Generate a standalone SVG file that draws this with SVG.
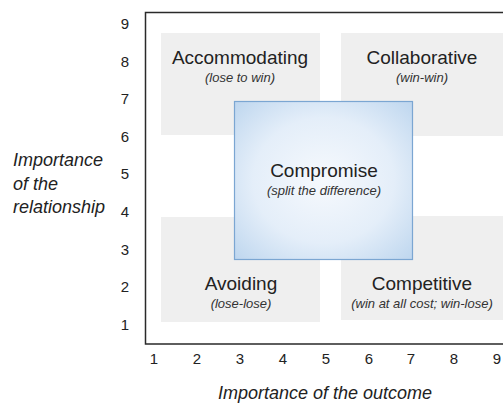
<svg xmlns="http://www.w3.org/2000/svg" width="503" height="403" viewBox="0 0 503 403">
  <style>
    text { font-family: "Liberation Sans", Arial, sans-serif; fill: #222; }
    .tick { font-size: 15px; text-anchor: middle; }
    .axis { font-size: 18px; font-style: italic; }
    .title { font-size: 19px; text-anchor: middle; }
    .sub { font-size: 13px; font-style: italic; text-anchor: middle; fill: #333; }
    .zone { fill: #efefef; }
    .frame { stroke: #2a2a2a; stroke-width: 1.5; fill: none; }
  </style>
  <defs>
    <radialGradient id="blueFill" cx="0.5" cy="0.5" r="0.72">
      <stop offset="0" stop-color="#f6f9fd"/>
      <stop offset="0.55" stop-color="#e4eef9"/>
      <stop offset="1" stop-color="#bcd5ee"/>
    </radialGradient>
  </defs>

  <rect width="503" height="403" fill="#ffffff"/>

  <!-- chart frame -->
  <g id="frame">
    <path class="frame" d="M503 12.5 H145.5 V344 H503"/>
  </g>

  <!-- vertical scale -->
  <g id="y-ticks">
    <text class="tick" x="125" y="29">9</text>
    <text class="tick" x="125" y="67">8</text>
    <text class="tick" x="125" y="104">7</text>
    <text class="tick" x="125" y="142">6</text>
    <text class="tick" x="125" y="179">5</text>
    <text class="tick" x="125" y="217">4</text>
    <text class="tick" x="125" y="255">3</text>
    <text class="tick" x="125" y="292">2</text>
    <text class="tick" x="125" y="330">1</text>
  </g>

  <!-- horizontal scale -->
  <g id="x-ticks">
    <text class="tick" x="154" y="364">1</text>
    <text class="tick" x="197" y="364">2</text>
    <text class="tick" x="240" y="364">3</text>
    <text class="tick" x="283" y="364">4</text>
    <text class="tick" x="326" y="364">5</text>
    <text class="tick" x="369" y="364">6</text>
    <text class="tick" x="411" y="364">7</text>
    <text class="tick" x="454" y="364">8</text>
    <text class="tick" x="497" y="364">9</text>
  </g>

  <g id="y-label">
    <text class="axis" x="13" y="166">Importance</text>
    <text class="axis" x="13" y="190">of the</text>
    <text class="axis" x="13" y="213">relationship</text>
  </g>
  <g id="x-label">
    <text class="axis" x="325" y="399" text-anchor="middle">Importance of the outcome</text>
  </g>

  <g id="accommodating">
    <rect class="zone" x="161" y="33" width="159" height="102"/>
    <text class="title" x="240" y="64">Accommodating</text>
    <text class="sub" x="240" y="82">(lose to win)</text>
  </g>

  <g id="collaborative">
    <rect class="zone" x="341" y="33" width="162" height="103"/>
    <text class="title" x="422" y="64">Collaborative</text>
    <text class="sub" x="422" y="82">(win-win)</text>
  </g>

  <g id="avoiding">
    <rect class="zone" x="161" y="217" width="159" height="105"/>
    <text class="title" x="241" y="290">Avoiding</text>
    <text class="sub" x="241" y="308">(lose-lose)</text>
  </g>

  <g id="competitive">
    <rect class="zone" x="341" y="216" width="162" height="104"/>
    <text class="title" x="422" y="290">Competitive</text>
    <text class="sub" x="422" y="308">(win at all cost; win-lose)</text>
  </g>

  <g id="compromise">
    <rect x="234.5" y="101.5" width="178" height="158" fill="url(#blueFill)" stroke="#7ba6d2" stroke-width="1.2"/>
    <text class="title" x="324" y="177">Compromise</text>
    <text class="sub" x="324" y="195">(split the difference)</text>
  </g>
</svg>
